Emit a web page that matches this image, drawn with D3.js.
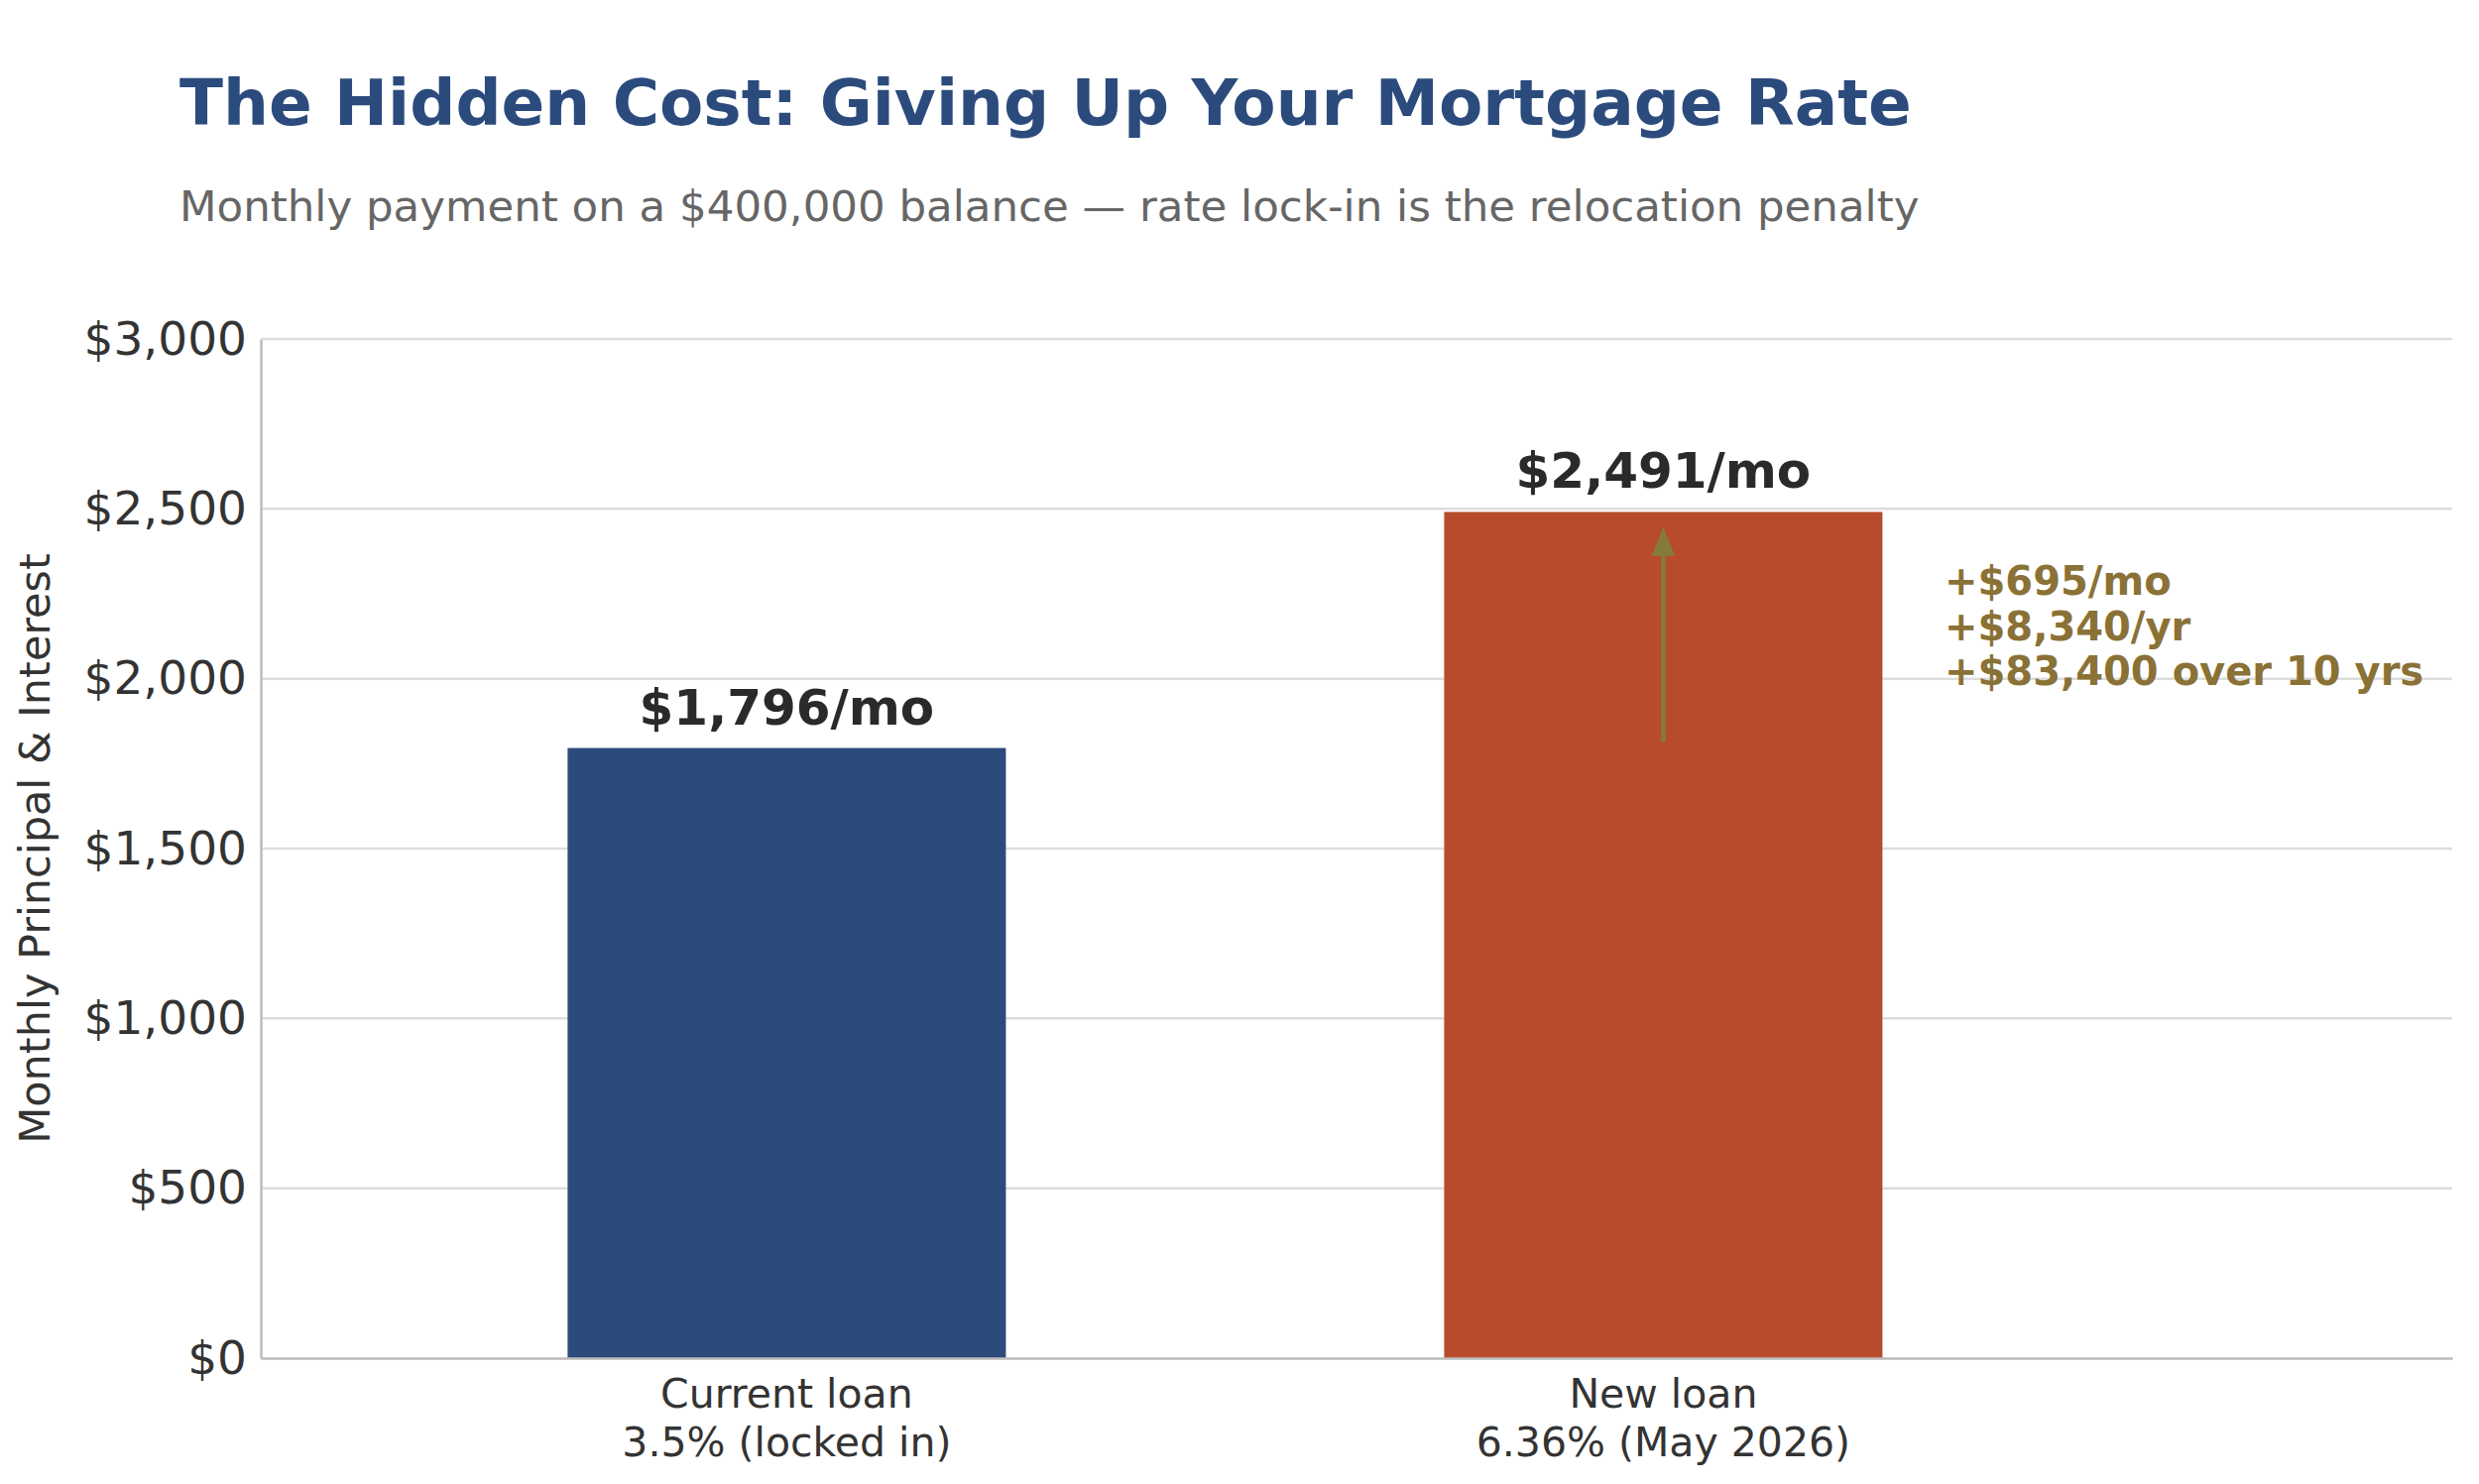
<!DOCTYPE html>
<html>
<head>
<meta charset="utf-8">
<script src="https://cdn.jsdelivr.net/npm/d3@7"></script>
<style>
  body { margin: 0; background: #fff; }
  text { font-family: "DejaVu Sans", sans-serif; }
</style>
</head>
<body>
<div id="chart"></div>
<script>
const categories = ["Current loan\n3.5% (locked in)", "New loan\n6.36% (May 2026)"];
const payments = [1796, 2491];
const barLabels = ["$1,796/mo", "$2,491/mo"];
const yTicks = [0, 500, 1000, 1500, 2000, 2500, 3000];
const annotationLines = ["+$695/mo", "+$8,340/yr", "+$83,400 over 10 yrs"];
const barColors = ["#2c4b7d", "#b74b2c"];

const W = 2500, H = 1497;
const m = { left: 263, right: 2473, top: 342, bottom: 1370 };

const svg = d3.select("#chart").append("svg")
  .attr("width", W).attr("height", H);

const x = d3.scaleLinear().domain([-0.6, 1.9]).range([m.left, m.right]);
const y = d3.scaleLinear().domain([0, 3000]).range([m.bottom, m.top]);
const barW = x(0.5) - x(0);

// gridlines
svg.append("g").selectAll("line").data(yTicks.slice(1)).enter().append("line")
  .attr("x1", m.left).attr("x2", m.right)
  .attr("y1", d => y(d)).attr("y2", d => y(d))
  .attr("stroke", "#dddddd").attr("stroke-width", 2.5);

// bars
svg.append("g").selectAll("rect").data(payments).enter().append("rect")
  .attr("x", (d, i) => x(i) - barW / 2)
  .attr("y", d => y(d))
  .attr("width", barW)
  .attr("height", d => y(0) - y(d))
  .attr("fill", (d, i) => barColors[i]);

// axes
const yAxis = svg.append("g").attr("transform", `translate(${m.left},0)`)
  .call(d3.axisLeft(y).tickValues(yTicks).tickSize(0).tickPadding(14)
    .tickFormat(d => "$" + d3.format(",")(d)));
yAxis.select(".domain").attr("stroke", "#bbbbbb").attr("stroke-width", 2.5);
yAxis.selectAll("text").attr("font-size", 47).attr("fill", "#333");

const xAxis = svg.append("g").attr("transform", `translate(0,${m.bottom})`)
  .call(d3.axisBottom(x).tickValues([0, 1]).tickSize(0).tickFormat(""));
xAxis.select(".domain").attr("stroke", "#bbbbbb").attr("stroke-width", 2.5);

// category labels
categories.forEach((c, i) => {
  const t = svg.append("text").attr("text-anchor", "middle")
    .attr("font-size", 41).attr("fill", "#333");
  c.split("\n").forEach((line, j) => {
    t.append("tspan").attr("x", x(i)).attr("y", 1420 + j * 49).text(line);
  });
});

// bar value labels
svg.append("g").selectAll("text").data(payments).enter().append("text")
  .attr("x", (d, i) => x(i)).attr("y", d => y(d) - 24)
  .attr("text-anchor", "middle").attr("font-size", 50).attr("font-weight", "bold")
  .attr("fill", "#2a2a2a").text((d, i) => barLabels[i]);

// arrow
const arrowColor = "#857a3a";
svg.append("defs").append("marker").attr("id", "ah")
  .attr("viewBox", "0 0 10 10").attr("refX", 5).attr("refY", 5)
  .attr("markerWidth", 6).attr("markerHeight", 6).attr("orient", "auto")
  .append("path").attr("d", "M0,1 L10,5 L0,9 z").attr("fill", arrowColor);
svg.append("line")
  .attr("x1", x(1)).attr("x2", x(1))
  .attr("y1", y(payments[0]) - 6).attr("y2", y(payments[1]) + 30)
  .attr("stroke", arrowColor).attr("stroke-width", 5)
  .attr("marker-end", "url(#ah)");

// annotation text
svg.append("g").selectAll("text").data(annotationLines).enter().append("text")
  .attr("x", 1961).attr("y", (d, i) => 600 + i * 45.5)
  .attr("font-size", 40).attr("font-weight", "bold").attr("fill", "#8a7136")
  .text(d => d);

// y label
svg.append("text").attr("transform", `translate(50,${(m.top + m.bottom) / 2}) rotate(-90)`)
  .attr("text-anchor", "middle").attr("font-size", 43).attr("fill", "#333")
  .text("Monthly Principal & Interest");

// title and subtitle
svg.append("text").attr("x", 181).attr("y", 126)
  .attr("font-size", 64.5).attr("font-weight", "bold").attr("fill", "#2c4b7d")
  .text("The Hidden Cost: Giving Up Your Mortgage Rate");
svg.append("text").attr("x", 181).attr("y", 223)
  .attr("font-size", 43.5).attr("fill", "#666")
  .text("Monthly payment on a $400,000 balance \u2014 rate lock-in is the relocation penalty");
</script>
</body>
</html>
